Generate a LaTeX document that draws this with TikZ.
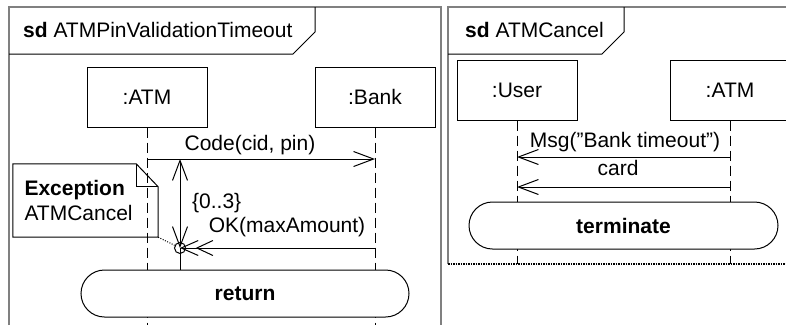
\documentclass[tikz,border=0pt]{standalone}
\usepackage{fontspec}
\setmainfont{Liberation Sans}
\usetikzlibrary{positioning, arrows.meta}

\begin{document}
\begin{tikzpicture}[x=1pt, y=-1pt, on grid, font=\fontsize{21}{25}\selectfont,
    frame/.style={draw=gray, line width=2pt},
    thin/.style={line width=1pt},
    lifebox/.style={draw, line width=1pt, minimum width=120pt, minimum height=60pt, inner sep=0pt},
    lifeline/.style={line width=1pt, dash pattern=on 10pt off 5pt},
    msg/.style={line width=1pt, -{Straight Barb[length=20pt, width=15pt]}},
    refbox/.style={draw, line width=1pt, fill=white, rounded corners=23.5pt, minimum height=47pt, font=\fontsize{21}{25}\selectfont\bfseries}]
    \useasboundingbox (0,0) rectangle (786,325);

    % FRAMES
    \draw[frame] (9,325) -- (9,7) -- (441,7) -- (441,325);
    \draw[frame] (786,7) -- (448,7) -- (448,264);
    \draw[line width=1.5pt, dash pattern=on 1.5pt off 1pt] (448,264) -- (786,264);

    % TITLES
    \draw[thin] (9,54) -- (293,54) -- (315,32) -- (315,7);
    \node[anchor=base west, inner sep=0pt] (sdA) at (23,37) {\textbf{sd} ATMPinValidationTimeout};
    \draw[thin] (448,54) -- (602,54) -- (624,32) -- (624,7);
    \node[anchor=base west, inner sep=0pt] (sdB) at (465,37) {\textbf{sd} ATMCancel};

    % LIFELINES
    \node[lifebox] (atmA) at (147,97) {:ATM};
    \node[lifebox] (bank) [right=228pt of atmA] {:Bank};
    \node[lifebox] (user) at (517,90) {:User};
    \node[lifebox] (atmB) [right=213pt of user] {:ATM};

    \coordinate (atmAend) at (147,325);
    \coordinate (bankend) at (375,325);
    \coordinate (userend) at (517,264);
    \coordinate (atmBend) at (730,264);
    \draw[lifeline] (atmA.south) -- (atmAend);
    \draw[lifeline] (bank.south) -- (bankend);
    \draw[lifeline] (user.south) -- (userend);
    \draw[lifeline] (atmB.south) -- (atmBend);

    % MESSAGES
    \coordinate (codefrom) at (147,159);
    \coordinate (codeto) at (375,159);
    \draw[msg] (codefrom) -- (codeto);
    \node[anchor=base] (codelbl) at (250,150) {Code(cid, pin)};

    \node[circle, draw, line width=1pt, inner sep=0pt, minimum size=11pt] (catch) at (180,248) {};
    \coordinate (okfrom) at (375,248);
    \draw[line width=1pt, -{Straight Barb[length=16pt, width=15pt, sep=-3pt] Straight Barb[length=17pt, width=15pt]}] (okfrom) -- (catch.center);
    \node[anchor=base] (oklbl) at (287,232) {OK(maxAmount)};

    % DURATION CONSTRAINT
    \coordinate (durtop) at (180,159);
    \draw[line width=1pt, {Straight Barb[length=20pt, width=15pt]}-{Straight Barb[length=20pt, width=15pt]}] (durtop) -- (catch.center);
    \node[anchor=base west, inner sep=0pt] (durlbl) at (192,208) {\{0..3\}};

    % EXCEPTION NOTE
    \node[minimum width=145pt, minimum height=73pt, text width=122pt, align=left, inner sep=0pt] (exc) at (85.5,200.5) {\textbf{Exception}\\ATMCancel};
    \draw[thin] (exc.north west) -- ([xshift=-22pt]exc.north east) -- ([yshift=-23pt]exc.north east) -- (exc.south east) -- (exc.south west) -- cycle;
    \draw[thin] ([xshift=-22pt]exc.north east) -- ([xshift=-22pt, yshift=-23pt]exc.north east) -- ([yshift=-23pt]exc.north east);
    \draw[line width=1pt, dash pattern=on 1pt off 1.5pt] (exc.south east) -- (catch);

    % INTERACTION USE
    \node[refbox, minimum width=328pt] (ret) at (245,293.5) {return};
    \draw[line width=1pt] (catch.center) -- (catch |- ret.north);

    % RIGHT DIAGRAM MESSAGES
    \coordinate (msgfrom) at (730,157);
    \coordinate (msgto) at (517,157);
    \draw[msg] (msgfrom) -- (msgto);
    \node[anchor=base] (msglbl) at (625,147) {Msg(”Bank timeout”)};

    \coordinate (cardfrom) at (730,187);
    \coordinate (cardto) at (517,187);
    \draw[msg] (cardfrom) -- (cardto);
    \node[anchor=base] (cardlbl) at (618,175) {card};

    \node[refbox, minimum width=309pt] (term) at (623.5,225.5) {terminate};
\end{tikzpicture}
\end{document}
